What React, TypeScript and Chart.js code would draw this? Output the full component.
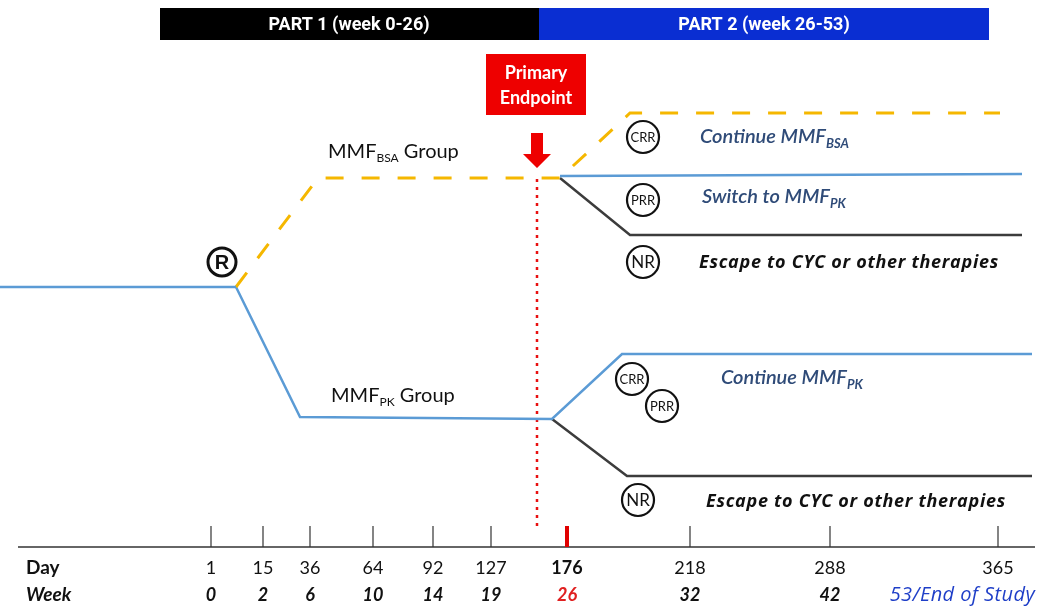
import React, { useEffect, useRef } from "react";
import { Chart, registerables } from "chart.js";
Chart.register(...registerables);

// ---- Timeline (bottom axis) ----
const dayLabels = ["1", "15", "36", "64", "92", "127", "176", "218", "288", "365"];
const weekLabels = ["0", "2", "6", "10", "14", "19", "26", "32", "42", "53/End of Study"];
const timelineX = [211, 263, 310, 373, 433, 491, 567, 690, 830, 998];
const endpointIndex = 6;

// ---- Schematic arms (x: timeline units, y: lane units, downward) ----
const screeningX = [0, 236];
const screeningY = [287, 287];
const bsaX = [236, 318, 560, 630, 1000];
const bsaY = [287, 178, 178, 113, 113];
const bsaSwitchX = [560, 1022];
const bsaSwitchY = [176, 174];
const bsaEscapeX = [560, 630, 1022];
const bsaEscapeY = [178, 235, 235];
const pkX = [236, 300, 552, 622, 1032];
const pkY = [287, 417, 419, 354, 354];
const pkEscapeX = [552, 627, 1032];
const pkEscapeY = [419, 476, 476];
const endpointLineX = [537, 537];
const endpointLineY = [179, 528];

// ---- Response circles ----
const respLabels = ["CRR", "PRR", "NR", "CRR", "PRR", "NR"];
const respX = [643, 643, 643, 632, 662, 638];
const respY = [137, 200, 262, 379, 406, 500];
const randX = [222];
const randY = [262];

const BLUE = "#5B9BD5";
const GOLD = "#F5B700";
const DARK = "#3C3C3C";
const TXTBLUE = "#2F4B78";

const pts = (xs: number[], ys: number[]) => xs.map((x, i) => ({ x, y: ys[i] }));

function lineDs(xs: number[], ys: number[], color: string, extra: any = {}) {
  return {
    type: "line",
    data: pts(xs, ys),
    borderColor: color,
    borderWidth: 2.5,
    pointRadius: 0,
    tension: 0,
    fill: false,
    order: 2,
    ...extra,
  };
}

function richText(
  ctx: CanvasRenderingContext2D,
  x: number,
  y: number,
  main: string,
  sub: string,
  rest: string,
  font: string,
  subFont: string,
  color: string,
  subDy: number
) {
  ctx.fillStyle = color;
  ctx.textAlign = "left";
  ctx.textBaseline = "middle";
  ctx.font = font;
  ctx.fillText(main, x, y);
  let w = ctx.measureText(main).width;
  ctx.font = subFont;
  ctx.fillText(sub, x + w, y + subDy);
  w += ctx.measureText(sub).width;
  if (rest) {
    ctx.font = font;
    ctx.fillText(rest, x + w, y);
  }
}

const schematicPlugin = {
  id: "schematic",
  beforeDatasetsDraw(chart: any) {
    const ctx: CanvasRenderingContext2D = chart.ctx;
    const X = (v: number) => chart.scales.x.getPixelForValue(v);
    const Y = (v: number) => chart.scales.y.getPixelForValue(v);
    ctx.save();
    // Part header bars
    ctx.fillStyle = "#000000";
    ctx.fillRect(X(160), Y(8), X(539) - X(160), Y(40) - Y(8));
    ctx.fillStyle = "#0A2ED2";
    ctx.fillRect(X(539), Y(8), X(989) - X(539), Y(40) - Y(8));
    ctx.fillStyle = "#FFFFFF";
    ctx.font = "bold 18px 'Liberation Sans Narrow', 'Roboto', sans-serif";
    ctx.textAlign = "center";
    ctx.textBaseline = "middle";
    ctx.fillText("PART 1 (week 0-26)", X(349), Y(25));
    ctx.fillText("PART 2 (week 26-53)", X(764), Y(25));

    // Primary endpoint box
    ctx.fillStyle = "#EE0000";
    ctx.fillRect(X(486), Y(54), X(586) - X(486), Y(115) - Y(54));
    ctx.fillStyle = "#FFFFFF";
    ctx.font = "bold 18px Lato, sans-serif";
    ctx.fillText("Primary", X(536), Y(73));
    ctx.fillText("Endpoint", X(536), Y(98));

    // Arrow
    ctx.fillStyle = "#EE0000";
    ctx.beginPath();
    ctx.moveTo(X(531), Y(133));
    ctx.lineTo(X(543), Y(133));
    ctx.lineTo(X(543), Y(154));
    ctx.lineTo(X(551), Y(154));
    ctx.lineTo(X(537), Y(168));
    ctx.lineTo(X(523), Y(154));
    ctx.lineTo(X(531), Y(154));
    ctx.closePath();
    ctx.fill();

    // Timeline axis
    ctx.strokeStyle = "#333333";
    ctx.lineWidth = 1.5;
    ctx.beginPath();
    ctx.moveTo(X(18), Y(547));
    ctx.lineTo(X(1035), Y(547));
    ctx.stroke();
    timelineX.forEach((tx, i) => {
      const isEp = i === endpointIndex;
      ctx.strokeStyle = isEp ? "#E00000" : "#333333";
      ctx.lineWidth = isEp ? 4 : 1.2;
      ctx.beginPath();
      ctx.moveTo(X(tx), Y(526));
      ctx.lineTo(X(tx), Y(547));
      ctx.stroke();
    });
    ctx.restore();
  },
  afterDatasetsDraw(chart: any) {
    const ctx: any = chart.ctx;
    const X = (v: number) => chart.scales.x.getPixelForValue(v);
    const Y = (v: number) => chart.scales.y.getPixelForValue(v);
    ctx.save();
    // Circle labels
    ctx.textAlign = "center";
    ctx.textBaseline = "middle";
    ctx.fillStyle = "#111111";
    respLabels.forEach((l, i) => {
      ctx.font = l === "NR" ? "17px Lato, sans-serif" : "13px 'Liberation Sans Narrow', Lato, sans-serif";
      ctx.fillText(l, X(respX[i]), Y(respY[i]) + 1);
    });
    ctx.font = "bold 20px 'Liberation Sans', Arial, sans-serif";
    ctx.fillText("R", X(randX[0]), Y(randY[0]) + 1);

    // Group labels
    richText(ctx, X(328), Y(152), "MMF", "BSA", " Group", "20px Lato, sans-serif", "12px Lato, sans-serif", "#111111", 6);
    richText(ctx, X(331), Y(396), "MMF", "PK", " Group", "20px Lato, sans-serif", "12px Lato, sans-serif", "#111111", 6);

    // Arm outcomes
    richText(ctx, X(700), Y(137), "Continue MMF", "BSA", "", "italic 600 20px Lato, sans-serif", "italic bold 13px Lato, sans-serif", TXTBLUE, 7);
    richText(ctx, X(702), Y(197), "Switch to MMF", "PK", "", "italic 600 20px Lato, sans-serif", "italic bold 13px Lato, sans-serif", TXTBLUE, 7);
    richText(ctx, X(721), Y(378), "Continue MMF", "PK", "", "italic 600 20px Lato, sans-serif", "italic bold 13px Lato, sans-serif", TXTBLUE, 7);
    ctx.fillStyle = "#111111";
    ctx.font = "italic bold 18px 'Open Sans', sans-serif";
    ctx.letterSpacing = "0.7px";
    ctx.textAlign = "left";
    ctx.fillText("Escape to CYC or other therapies", X(699), Y(263));
    ctx.fillText("Escape to CYC or other therapies", X(706), Y(502));
    ctx.letterSpacing = "0px";

    // Timeline labels
    ctx.textBaseline = "middle";
    ctx.fillStyle = "#111111";
    ctx.font = "bold 19px Lato, sans-serif";
    ctx.fillText("Day", X(26), Y(568));
    ctx.font = "italic bold 19px Lato, sans-serif";
    ctx.fillText("Week", X(26), Y(595));
    timelineX.forEach((tx, i) => {
      const isEp = i === endpointIndex;
      const last = i === timelineX.length - 1;
      ctx.fillStyle = "#111111";
      ctx.textAlign = "center";
      ctx.font = isEp ? "bold 18px Lato, sans-serif" : "18px Lato, sans-serif";
      ctx.fillText(dayLabels[i], X(tx), Y(568));
      if (last) {
        ctx.fillStyle = "#1F3FC8";
        ctx.textAlign = "right";
        ctx.font = "italic 20px 'Open Sans', sans-serif";
        ctx.letterSpacing = "0.4px";
        ctx.fillText(weekLabels[i], X(1035), Y(595));
        ctx.letterSpacing = "0px";
      } else {
        ctx.fillStyle = isEp ? "#E02020" : "#111111";
        ctx.font = "italic bold 18px Lato, sans-serif";
        ctx.fillText(weekLabels[i], X(tx), Y(595));
      }
    });
    ctx.restore();
  },
};

export default function App() {
  const ref = useRef<HTMLCanvasElement | null>(null);
  useEffect(() => {
    document.body.style.margin = "0";
    if (!ref.current) return;
    const chart = new Chart(ref.current, {
      type: "line",
      data: {
        datasets: [
          {
            type: "scatter",
            data: pts(respX, respY),
            pointRadius: 16,
            pointHoverRadius: 16,
            pointBackgroundColor: "#FFFFFF",
            pointBorderColor: "#111111",
            pointBorderWidth: 2.2,
            showLine: false,
            order: 0,
          },
          {
            type: "scatter",
            data: pts(randX, randY),
            pointRadius: 14,
            pointHoverRadius: 14,
            pointBackgroundColor: "#FFFFFF",
            pointBorderColor: "#111111",
            pointBorderWidth: 3,
            showLine: false,
            order: 0,
          },
          lineDs(screeningX, screeningY, BLUE),
          lineDs(bsaX, bsaY, GOLD, { borderDash: [18, 18], borderWidth: 3 }),
          lineDs(bsaSwitchX, bsaSwitchY, BLUE),
          lineDs(bsaEscapeX, bsaEscapeY, DARK),
          lineDs(pkX, pkY, BLUE),
          lineDs(pkEscapeX, pkEscapeY, DARK),
          lineDs(endpointLineX, endpointLineY, "#E81010", { borderDash: [3, 5], borderWidth: 2.5 }),
        ] as any,
      },
      options: {
        animation: false,
        responsive: true,
        maintainAspectRatio: false,
        layout: { padding: 0, autoPadding: false },
        plugins: { legend: { display: false }, tooltip: { enabled: false } },
        events: [],
        scales: {
          x: { type: "linear", min: 0, max: 1050, display: false },
          y: { type: "linear", min: 0, max: 610, reverse: true, display: false },
        },
      },
      plugins: [schematicPlugin],
    });
    return () => chart.destroy();
  }, []);
  return (
    <div style={{ position: "fixed", left: 0, top: 0, width: 1050, height: 610, background: "#fff" }}>
      <canvas ref={ref} />
    </div>
  );
}
